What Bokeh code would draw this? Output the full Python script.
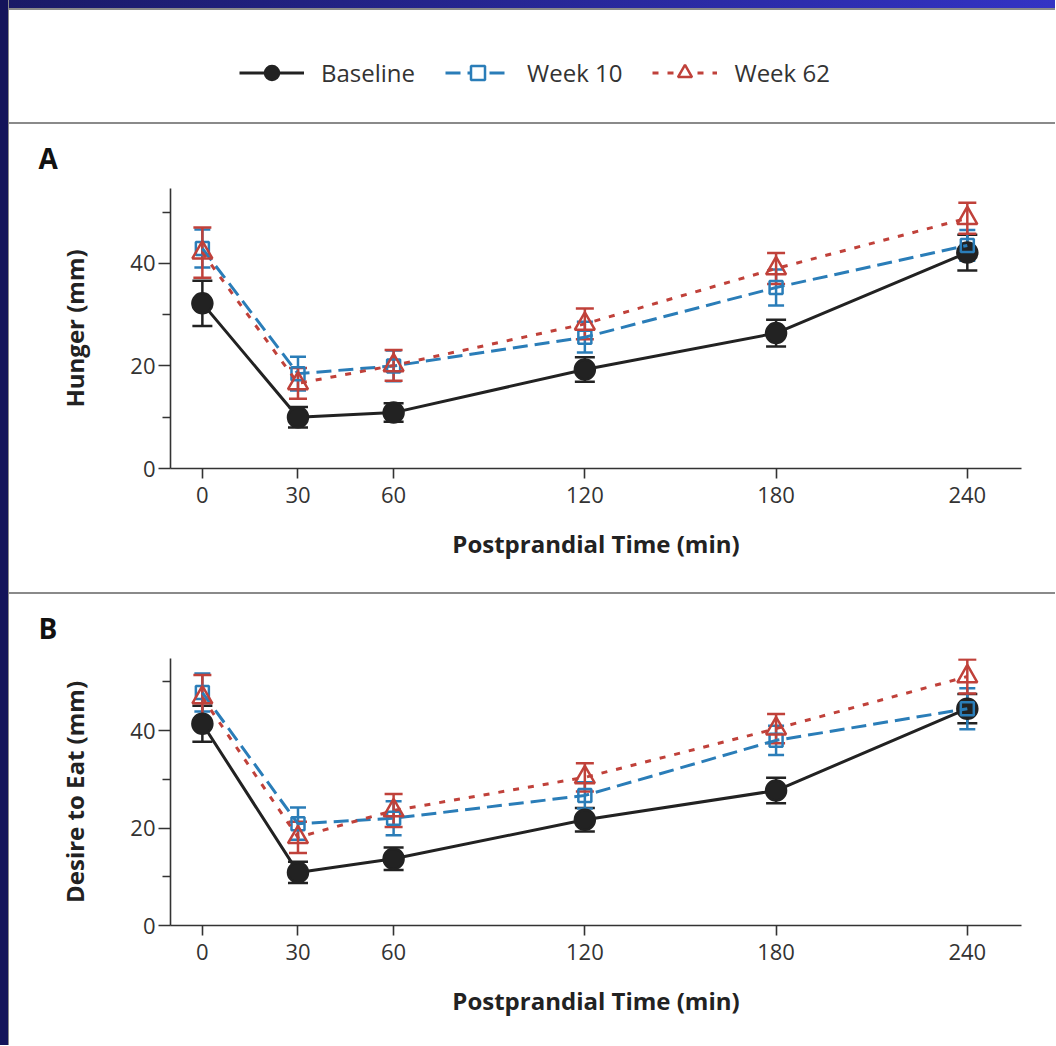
from bokeh.plotting import figure
from bokeh.layouts import column, row
from bokeh.models import (ColumnDataSource, Whisker, TeeHead, Legend,
                          LegendItem, FixedTicker, Div)
from bokeh.embed import file_html
from bokeh.resources import INLINE

# ---------------- data ----------------
time = [0, 30, 60, 120, 180, 240]
x_ticks = [0, 30, 60, 120, 180, 240]
y_ticks = [0, 20, 40]
y_minor = [10, 30, 50]

hunger_baseline = [32.2, 10.0, 10.9, 19.3, 26.4, 42.1]
hunger_baseline_err = [4.4, 2.0, 1.8, 2.4, 2.6, 3.5]
hunger_week10 = [42.9, 18.5, 20.0, 25.6, 35.3, 43.5]
hunger_week10_err = [3.7, 3.3, 3.0, 3.0, 3.5, 3.0]
hunger_week62 = [42.1, 16.6, 20.1, 28.2, 39.0, 48.8]
hunger_week62_err = [4.9, 3.0, 3.0, 3.0, 3.0, 3.0]

desire_baseline = [41.4, 10.9, 13.7, 21.7, 27.7, 44.5]
desire_baseline_err = [3.7, 2.2, 2.3, 2.4, 2.6, 3.0]
desire_week10 = [47.8, 20.9, 22.0, 26.7, 38.0, 44.5]
desire_week10_err = [3.9, 3.3, 3.5, 2.7, 3.0, 4.2]
desire_week62 = [46.8, 18.1, 23.6, 30.4, 40.4, 51.1]
desire_week62_err = [4.6, 3.2, 3.4, 2.9, 3.0, 3.5]

series_names = ["Baseline", "Week 10", "Week 62"]

# ---------------- styles ----------------
FONT = "Open Sans"
BLACK = "#222222"
BLUE = "#2a7db8"
RED = "#c0413a"
GREY_SEP = "#8a8a8a"
W = 1046

STYLES = {
    "Baseline": dict(color=BLACK, dash="solid", marker="circle", size=20,
                     fill=BLACK, cap=20),
    "Week 10": dict(color=BLUE, dash="15 7", marker="square", size=13,
                    fill=None, cap=16),
    "Week 62": dict(color=RED, dash="6 9", marker="triangle", size=20,
                    fill=None, cap=18),
}


def sep(h=2):
    return Div(width=W, height=h, margin=0,
               styles={"background-color": GREY_SEP})


def panel(height, border_bottom, ymax, letter, ylabel, data):
    p = figure(width=W, height=height, x_range=(-10, 257), y_range=(0, ymax),
               toolbar_location=None, output_backend="svg",
               min_border_left=161, min_border_right=34,
               min_border_top=64, min_border_bottom=border_bottom)
    p.outline_line_color = None
    p.grid.visible = False
    p.background_fill_color = "white"
    p.border_fill_color = "white"

    p.title.text = letter
    p.title.align = "left"
    p.title.offset = -132
    p.title.standoff = 23
    p.title.text_font = FONT
    p.title.text_font_style = "bold"
    p.title.text_font_size = "28px"
    p.title.text_color = "#111111"

    for ax in (p.xaxis[0], p.yaxis[0]):
        ax.axis_line_color = "#333333"
        ax.axis_line_width = 1.6
        ax.major_tick_line_color = "#333333"
        ax.major_tick_line_width = 1.6
        ax.minor_tick_line_color = "#333333"
        ax.minor_tick_line_width = 1.6
        ax.major_tick_in = 0
        ax.minor_tick_in = 0
        ax.major_label_text_font = FONT
        ax.major_label_text_font_size = "22px"
        ax.major_label_text_color = "#333333"
        ax.axis_label_text_font = FONT
        ax.axis_label_text_font_style = "bold"
        ax.axis_label_text_font_size = "24px"
        ax.axis_label_text_color = BLACK

    p.xaxis.ticker = FixedTicker(ticks=x_ticks)
    p.xaxis.major_tick_out = 10
    p.xaxis.minor_tick_out = 0
    p.xaxis.major_label_standoff = 8
    p.xaxis.axis_label = "Postprandial Time (min)"
    p.xaxis.axis_label_standoff = 21

    p.yaxis.ticker = FixedTicker(ticks=y_ticks, minor_ticks=y_minor)
    p.yaxis.major_tick_out = 12
    p.yaxis.minor_tick_out = 8
    p.yaxis.major_label_standoff = 3
    p.yaxis.axis_label = ylabel
    p.yaxis.axis_label_standoff = 36

    for name, (vals, errs) in zip(series_names, data):
        st = STYLES[name]
        src = ColumnDataSource(dict(
            x=time, y=vals,
            upper=[v + e for v, e in zip(vals, errs)],
            lower=[v - e for v, e in zip(vals, errs)]))
        p.line("x", "y", source=src, line_color=st["color"], line_width=3,
               line_dash=st["dash"])
        wh = Whisker(source=src, base="x", upper="upper", lower="lower",
                     dimension="height", line_color=st["color"], line_width=2.5,
                     upper_head=TeeHead(size=st["cap"], line_color=st["color"],
                                        line_width=2.5),
                     lower_head=TeeHead(size=st["cap"], line_color=st["color"],
                                        line_width=2.5))
        p.add_layout(wh)
        p.scatter("x", "y", source=src, marker=st["marker"], size=st["size"],
                  line_color=st["color"], line_width=2.5,
                  fill_color=st["fill"])
    return p


# ---------------- header with legend ----------------
# the legend renderers reuse the data but sit outside the header's ranges
hdr = figure(width=W, height=112, x_axis_type=None, y_axis_type=None,
             toolbar_location=None, output_backend="svg", min_border=0,
             min_border_top=12, x_range=(1000, 1001), y_range=(1000, 1001))
hdr.outline_line_color = None
hdr.grid.visible = False
items = []
for name, vals in zip(series_names,
                      [hunger_baseline, hunger_week10, hunger_week62]):
    st = STYLES[name]
    rl = hdr.line(time, vals, line_color=st["color"], line_width=3,
                  line_dash=st["dash"])
    rm = hdr.scatter(time, vals, marker=st["marker"], size=st["size"],
                     line_color=st["color"], line_width=2.5,
                     fill_color=st["fill"] if st["fill"] else "white")
    items.append(LegendItem(label=name, renderers=[rl, rm]))
legend = Legend(items=items, orientation="horizontal", location=(69, 32),
                border_line_color=None, background_fill_alpha=0,
                label_text_font=FONT, label_text_font_size="24px",
                label_text_color="#333333", glyph_width=65, glyph_height=35,
                spacing=30, label_standoff=17, padding=0, margin=0)
hdr.add_layout(legend, "center")

pA = panel(468, 124, 54.6, "A", "Hunger (mm)",
           [(hunger_baseline, hunger_baseline_err),
            (hunger_week10, hunger_week10_err),
            (hunger_week62, hunger_week62_err)])
pB = panel(451, 120, 54.8, "B", "Desire to Eat (mm)",
           [(desire_baseline, desire_baseline_err),
            (desire_week10, desire_week10_err),
            (desire_week62, desire_week62_err)])

top_strip = Div(width=W, height=8, margin=0,
                styles={"background": "linear-gradient(to right,#1a1a66,#3333c4)"})
left_strip = Div(width=9, height=1045, margin=0,
                 styles={"background": "linear-gradient(to right,#14145a 0,#14145a 8px,#8a8a8a 8px)"})

content = column(top_strip, sep(2), hdr, sep(2), pA, sep(2), pB, spacing=0)
layout = row(left_strip, content, spacing=0)

open("out.html", "w").write(file_html(layout, INLINE))
